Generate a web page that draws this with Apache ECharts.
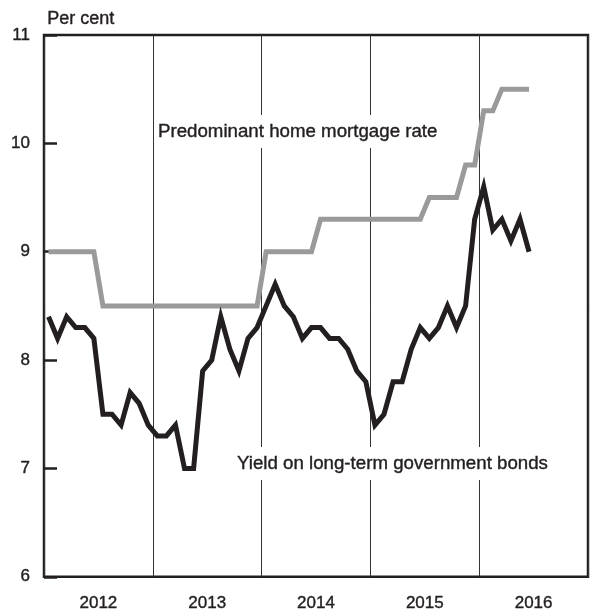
<!DOCTYPE html>
<html>
<head>
<meta charset="utf-8">
<script src="https://cdn.jsdelivr.net/npm/echarts@6/dist/echarts.min.js"></script>
<style>
html,body{margin:0;padding:0;background:#fff;}
#chart{width:590px;height:612px;}
</style>
</head>
<body>
<div id="chart"></div>
<script>
// Year categories (x-axis labels)
var years = ['2012', '2013', '2014', '2015', '2016'];
// Month names used to build monthly categories
var monthNames = ['Jan','Feb','Mar','Apr','May','Jun','Jul','Aug','Sep','Oct','Nov','Dec'];
// Y-axis ticks
var yMin = 6, yMax = 11, yStep = 1;

// Predominant home mortgage rate, monthly from Jan 2012
var mortgageRate = [
  9.0, 9.0, 9.0, 9.0, 9.0, 9.0, 8.5, 8.5, 8.5, 8.5, 8.5, 8.5,
  8.5, 8.5, 8.5, 8.5, 8.5, 8.5, 8.5, 8.5, 8.5, 8.5, 8.5, 8.5,
  9.0, 9.0, 9.0, 9.0, 9.0, 9.0, 9.3, 9.3, 9.3, 9.3, 9.3, 9.3,
  9.3, 9.3, 9.3, 9.3, 9.3, 9.3, 9.5, 9.5, 9.5, 9.5, 9.8, 9.8,
  10.3, 10.3, 10.5, 10.5, 10.5, 10.5
];

// Yield on long-term government bonds, monthly from Jan 2012
var bondYield = [
  8.4, 8.2, 8.4, 8.3, 8.3, 8.2, 7.5, 7.5, 7.4, 7.7, 7.6, 7.4,
  7.3, 7.3, 7.4, 7.0, 7.0, 7.9, 8.0, 8.4, 8.1, 7.9, 8.2, 8.3,
  8.5, 8.7, 8.5, 8.4, 8.2, 8.3, 8.3, 8.2, 8.2, 8.1, 7.9, 7.8,
  7.4, 7.5, 7.8, 7.8, 8.1, 8.3, 8.2, 8.3, 8.5, 8.3, 8.5, 9.3,
  9.6, 9.2, 9.3, 9.1, 9.3, 9.0
];

var months = [];
years.forEach(function (y) {
  monthNames.forEach(function (m) { months.push(m + ' ' + y); });
});

var FONT = '"Liberation Sans", Arial, Helvetica, sans-serif';
var INK = '#231f20';

var chart = echarts.init(document.getElementById('chart'), null, {renderer: 'canvas'});
chart.setOption({
  animation: false,
  backgroundColor: '#ffffff',
  grid: {
    left: 44, right: 2, top: 35, bottom: 33,
    show: true, borderColor: INK, borderWidth: 2.5, backgroundColor: 'transparent'
  },
  xAxis: [
    {
      type: 'category',
      data: years,
      boundaryGap: true,
      position: 'bottom',
      axisLine: {show: false},
      axisTick: {show: false},
      axisLabel: {
        interval: 0, margin: 18,
        color: INK, fontFamily: FONT, fontSize: 17,
        textBorderColor: INK, textBorderWidth: 0.4
      },
      splitLine: {show: true, interval: 0, lineStyle: {color: '#333', width: 1}}
    },
    {
      type: 'category',
      data: months,
      boundaryGap: true,
      show: false
    }
  ],
  yAxis: {
    type: 'value',
    min: yMin, max: yMax, interval: yStep,
    axisLine: {show: false},
    axisTick: {show: true, inside: true, length: 13, lineStyle: {color: INK, width: 2.5}},
    axisLabel: {
      margin: 14, color: INK, fontFamily: FONT, fontSize: 17,
      textBorderColor: INK, textBorderWidth: 0.4
    },
    splitLine: {show: false}
  },
  series: [
    {
      name: 'Predominant home mortgage rate',
      type: 'line',
      xAxisIndex: 1,
      data: mortgageRate,
      showSymbol: false,
      lineStyle: {color: '#9a9a9a', width: 5, join: 'miter'},
      z: 2
    },
    {
      name: 'Yield on long-term government bonds',
      type: 'line',
      xAxisIndex: 1,
      data: bondYield,
      showSymbol: false,
      lineStyle: {color: INK, width: 5, join: 'miter'},
      z: 3
    }
  ],
  graphic: [
    {
      type: 'text', left: 47, top: 10, z: 10,
      style: {text: 'Per cent', fill: INK, font: '18px ' + FONT, stroke: INK, lineWidth: 0.4}
    },
    {
      type: 'text', left: 155, top: 115, z: 10,
      style: {
        text: 'Predominant home mortgage rate', fill: INK, font: '18.7px ' + FONT,
        stroke: INK, lineWidth: 0.4,
        backgroundColor: '#fff', padding: [7, 3, 7, 3]
      }
    },
    {
      type: 'text', left: 234, top: 447, z: 10,
      style: {
        text: 'Yield on long-term government bonds', fill: INK, font: '18.7px ' + FONT,
        stroke: INK, lineWidth: 0.4,
        backgroundColor: '#fff', padding: [7, 3, 7, 3]
      }
    }
  ]
});
</script>
</body>
</html>
